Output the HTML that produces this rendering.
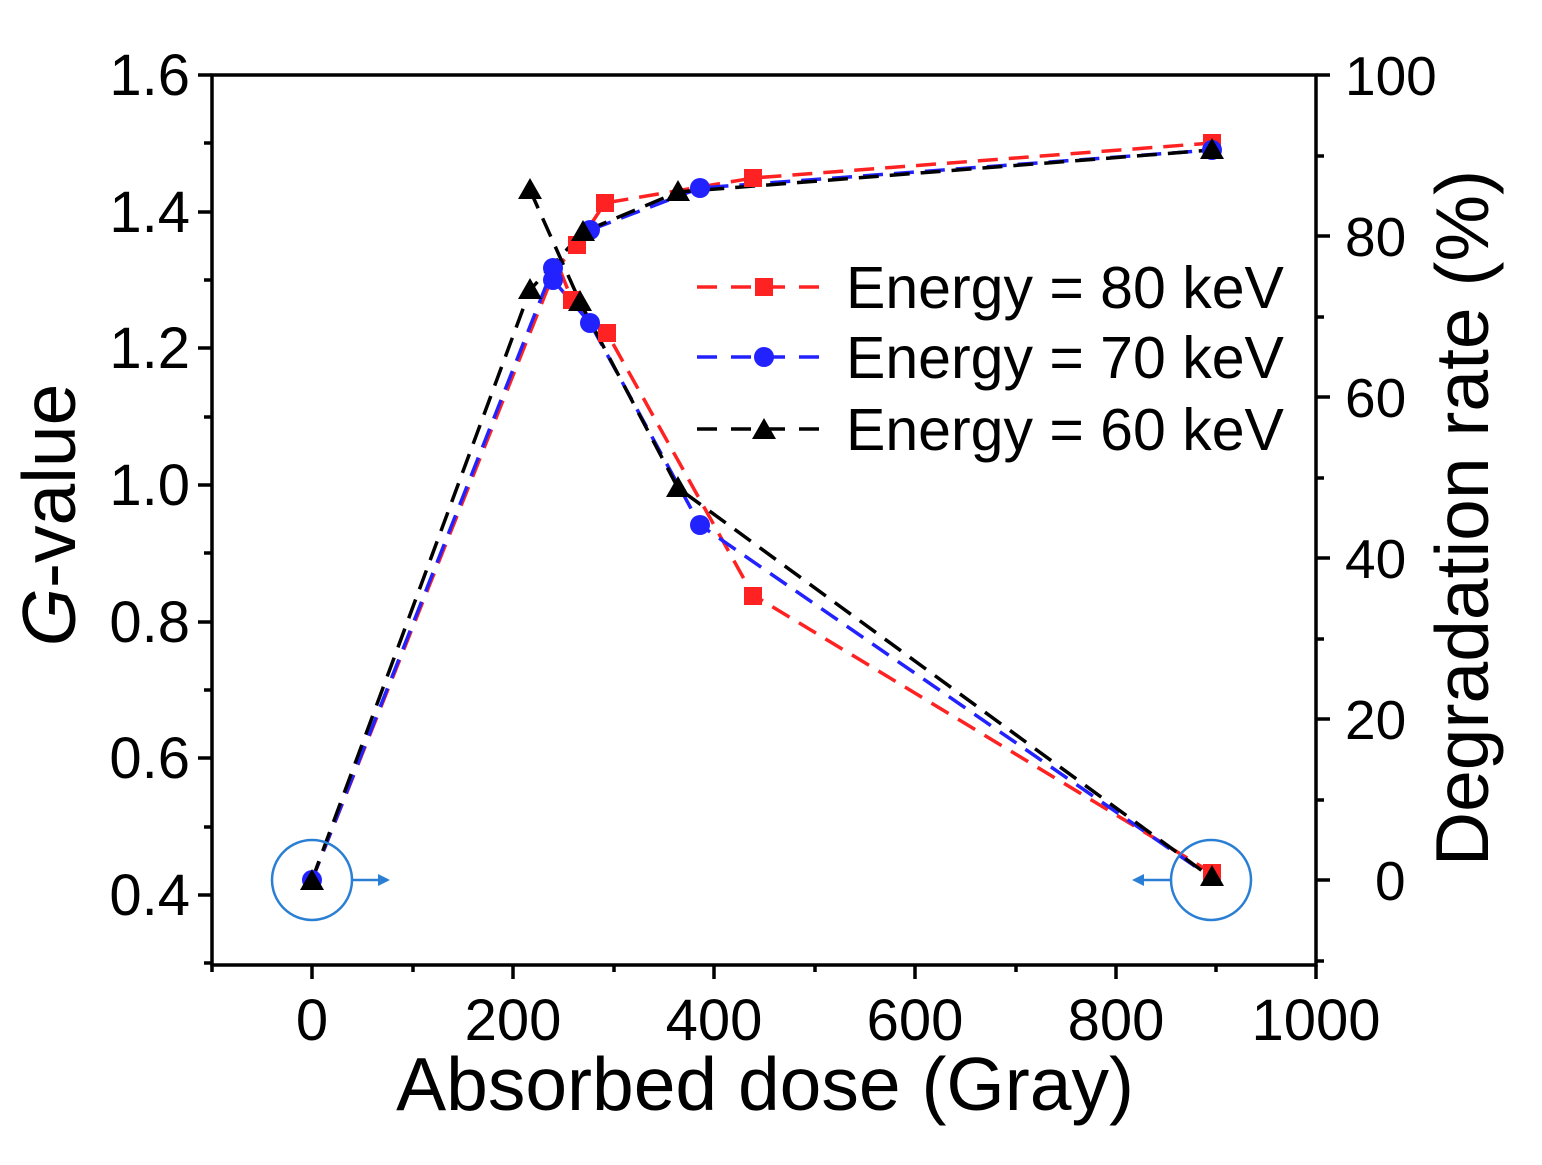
<!DOCTYPE html>
<html><head><style>body{margin:0;background:#fff}svg{display:block}</style></head>
<body>
<svg width="1542" height="1165" xmlns="http://www.w3.org/2000/svg" font-family="Liberation Sans, Arial, sans-serif">
<rect width="1542" height="1165" fill="#fff"/>
<g stroke="#000" stroke-width="3.5" fill="none">
<rect x="212" y="75" width="1104" height="890"/>
<path d="M212 75h-14M212 143h-8M212 212h-14M212 280h-8M212 348h-14M212 417h-8M212 485h-14M212 553h-8M212 622h-14M212 690h-8M212 758h-14M212 827h-8M212 895h-14M212 963h-8"/>
<path d="M1316 75h14M1316 156h8M1316 236h14M1316 317h8M1316 397h14M1316 478h8M1316 558h14M1316 639h8M1316 719h14M1316 800h8M1316 880h14M1316 961h8"/>
<path d="M212 965v7M312 965v14M413 965v7M513 965v14M614 965v7M714 965v14M815 965v7M915 965v14M1016 965v7M1116 965v14M1216 965v7M1316 965v14"/>
</g>
<g font-size="58" text-anchor="end">
<text x="190" y="95">1.6</text><text x="190" y="232">1.4</text><text x="190" y="368">1.2</text><text x="190" y="505">1.0</text><text x="190" y="642">0.8</text><text x="190" y="778">0.6</text><text x="190" y="915">0.4</text>
</g>
<g font-size="55" text-anchor="start">
<text x="1345" y="95">100</text><text x="1345" y="256">80</text><text x="1345" y="417">60</text><text x="1345" y="578">40</text><text x="1345" y="739">20</text><text x="1375" y="900">0</text>
</g>
<g font-size="58" text-anchor="middle">
<text x="312" y="1040">0</text><text x="513" y="1040">200</text><text x="714" y="1040">400</text><text x="915" y="1040">600</text><text x="1116" y="1040">800</text><text x="1316" y="1040">1000</text>
</g>
<text x="765" y="1110" font-size="75" text-anchor="middle">Absorbed dose (Gray)</text>
<text transform="translate(75,515) rotate(-90)" font-size="75" text-anchor="middle"><tspan font-style="italic">G</tspan>-value</text>
<text transform="translate(1488,518) rotate(-90)" font-size="75" text-anchor="middle">Degradation rate (%)</text>

<g fill="none" stroke-width="3.5" stroke-dasharray="20,11">
<polyline stroke="#f22" points="312,880 555,270 577,245 605,203 753,178 1212,143"/>
<polyline stroke="#22f" points="312,880 553,268 590,230 700,188 1212,150"/>
<polyline stroke="#000" points="312,880 530,290 583,232 678,192 1212,150"/>
<polyline stroke="#f22" points="560,270 572,300 607,333 753,595 1212,873"/>
<polyline stroke="#22f" points="553,280 590,323 700,525 1212,878"/>
<polyline stroke="#000" points="530,190 580,302 678,488 1212,878"/>
</g>
<g fill="#f22">
<rect x="596" y="194" width="18" height="18"/><rect x="568" y="236" width="18" height="18"/><rect x="744" y="587" width="18" height="18"/><rect x="598" y="324" width="18" height="18"/><rect x="563" y="291" width="18" height="18"/><rect x="744" y="169" width="18" height="18"/><rect x="1203" y="134" width="18" height="18"/><rect x="1203" y="864" width="18" height="18"/>
</g>
<g fill="#22f">
<circle cx="553" cy="268" r="10"/><circle cx="590" cy="230" r="10"/><circle cx="700" cy="188" r="10"/><circle cx="1212" cy="150" r="10"/><circle cx="553" cy="280" r="10"/><circle cx="590" cy="323" r="10"/><circle cx="700" cy="525" r="10"/><circle cx="312" cy="880" r="10"/>
</g>
<g fill="#000">
<path d="M530 178l12 21h-24z"/><path d="M530 278l12 21h-24z"/><path d="M583 220l12 21h-24z"/><path d="M580 290l12 21h-24z"/><path d="M678 180l12 21h-24z"/><path d="M678 476l12 21h-24z"/><path d="M1212 138l12 21h-24z"/><path d="M1212 865l12 21h-24z"/><path d="M312 869l12 21h-24z"/>
</g>
<g stroke="#2a7fd4" stroke-width="2.5" fill="none">
<circle cx="312" cy="880" r="40"/><circle cx="1211" cy="880" r="40"/>
<path d="M352 880h28M1171 880h-28"/>
</g>
<g fill="#2a7fd4"><path d="M390 880l-12-6v12z"/><path d="M1132 880l12-6v12z"/></g>

<g stroke-width="3.5" stroke-dasharray="20,14">
<line x1="697" y1="287" x2="832" y2="287" stroke="#f22"/>
<line x1="697" y1="357" x2="832" y2="357" stroke="#22f"/>
<line x1="697" y1="429" x2="832" y2="429" stroke="#000"/>
</g>
<rect x="755" y="278" width="18" height="18" fill="#f22"/>
<circle cx="764" cy="357" r="10" fill="#22f"/>
<path d="M764 418l12 21h-24z" fill="#000"/>
<g font-size="59">
<text x="846" y="308">Energy = 80 keV</text>
<text x="846" y="378">Energy = 70 keV</text>
<text x="846" y="450">Energy = 60 keV</text>
</g>
</svg>
</body></html>
